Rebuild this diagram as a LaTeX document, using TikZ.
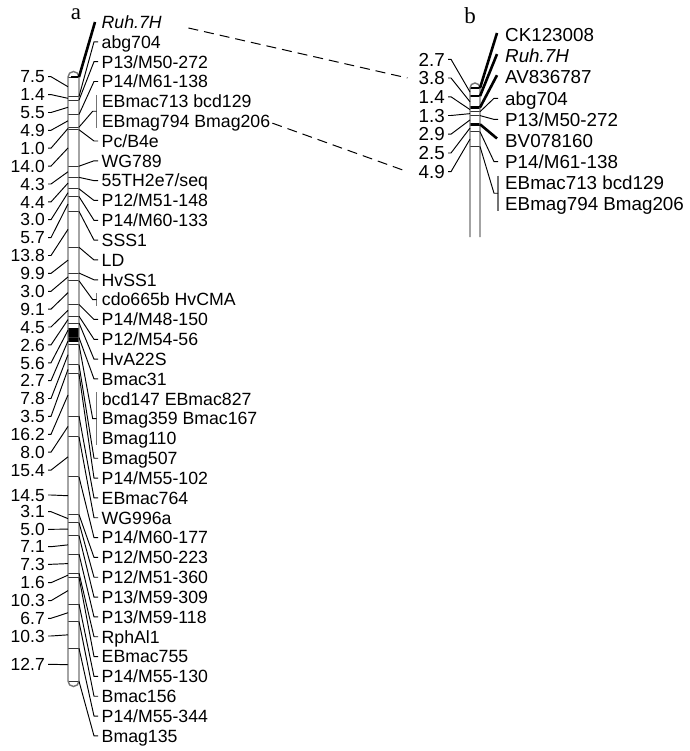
\documentclass[tikz,border=0pt]{standalone}
\usepackage{fontspec}
\setmainfont{Liberation Sans}
\newfontfamily\headfont{Liberation Serif}
\usetikzlibrary{calc}

\begin{document}
\begin{tikzpicture}[
  x=1pt, y=-1pt,
  chrom/.style    ={draw=black!55,line width=1.4pt},
  locus/.style    ={black!80,line width=0.9pt},
  boldlocus/.style={black,line width=2.6pt},
  link/.style     ={line width=0.95pt},
  boldlink/.style ={line width=2.6pt},
  linkdash/.style ={line width=1pt,dash pattern=on 10pt off 6pt},
  grpbar/.style   ={draw=black!55,line width=1.4pt},
  lblA/.style ={anchor=west,inner xsep=3.5pt,inner ysep=0pt,text height=12.7pt,text depth=0pt,font=\fontsize{17.7}{19.8}\selectfont},
  grpA/.style ={lblA,inner xsep=5pt},
  lblB/.style ={anchor=west,inner xsep=7pt,inner ysep=0pt,text height=13.5pt,text depth=0pt,font=\fontsize{18.8}{21}\selectfont},
  distA/.style={anchor=east,inner xsep=3pt,inner ysep=0pt,text height=12.5pt,text depth=0pt,font=\fontsize{17.5}{19}\selectfont},
  distB/.style={anchor=east,inner xsep=3pt,inner ysep=0pt,text height=13.5pt,text depth=0pt,font=\fontsize{18.8}{21}\selectfont},
  headlbl/.style={font=\headfont\fontsize{23}{25}\selectfont}]
\useasboundingbox (0,0) rectangle (689,751);
% --- headers ---
\node[headlbl] (hA) at (76,14) {a};
\node[headlbl] (hB) at (470,16) {b};

% ================= linkage group a =================
\fill[black] (68,328) rectangle (79,342);
\foreach \p [count=\i from 0] in {0,7.5,8.9,14.4,19.3,20.3,34.3,38.6,43.0,46.0,51.7,65.5,75.4,78.4,87.5,92.0,94.6,100.2,102.9,110.7,114.2,130.4,138.4,153.8,168.3,171.4,176.4,183.5,190.8,192.4,202.7,209.4,219.7,232.4}
{
  \coordinate (aL\i) at (68,{77+2.6*\p});
  \coordinate (aR\i) at (79,{77+2.6*\p});
  \draw[locus] (aL\i) -- (aR\i);
}
\draw[boldlocus] ([xshift=3pt]aL0) -- (aR0);
\draw[chrom] (68,681) -- (68,77) arc[start angle=180,end angle=0,radius=5.5pt]
  -- (79,681) arc[start angle=0,end angle=-180,radius=5.5pt] -- cycle;
% interval lengths on the left
\foreach \d/\yl [count=\i from 0] in {7.5/76.7,1.4/94.6,5.5/112.5,4.9/130.3,1.0/148.2,14.0/166.1,4.3/184.0,4.4/201.9,3.0/219.7,5.7/237.6,13.8/255.5,9.9/273.4,3.0/291.3,9.1/309.1,4.5/327.0,2.6/344.9,5.6/362.8,2.7/380.7,7.8/398.5,3.5/416.4,16.2/434.3,8.0/452.2,15.4/470.1,14.5/495.0,3.1/511.7,5.0/529.3,7.1/546.7,7.3/564.3,1.6/582.7,10.3/600.7,6.7/618.3,10.3/636.0,12.7/664.3}
{
  \pgfmathtruncatemacro\j{\i+1}
  \node[distA] (ad\i) at (48,\yl) {\d};
  \draw[link] (ad\i.east) -- ++(3,0) -- ($(aL\i)!0.5!(aL\j)$);
}
% loci on the right
\node[lblA] (la0) at (98,22) {\itshape Ruh.7H};
\draw[boldlink] (aR0) -- ([xshift=-3pt]la0.west);
\foreach \k/\r/\t in {1/1/abg704,2/2/{P13/M50-272},3/3/{P14/M61-138},5/6/{Pc/B4e},6/7/WG789,7/8/{55TH2e7/seq},8/9/{P12/M51-148},9/10/{P14/M60-133},10/11/SSS1,11/12/LD,12/13/HvSS1,14/15/{P14/M48-150},15/16/{P12/M54-56},16/17/HvA22S,17/18/Bmac31,19/22/Bmag507,20/23/{P14/M55-102},21/24/EBmac764,22/25/WG996a,23/26/{P14/M60-177},24/27/{P12/M50-223},25/28/{P12/M51-360},26/29/{P13/M59-309},27/30/{P13/M59-118},28/31/RphAl1,29/32/EBmac755,30/33/{P14/M55-130},31/34/Bmac156,32/35/{P14/M55-344},33/36/Bmag135}
{
  \node[lblA] (la\k) at (98,{22+19.83*\r}) {\t};
  \draw[link] (aR\k) -- ([xshift=-4pt]la\k.west) -- (la\k.west);
}
% grouped loci
\node[grpA] (la4a) at (96.7,{22+19.83*4}) {EBmac713 bcd129};
\node[grpA] (la4b) at (96.7,{22+19.83*5}) {EBmag794 Bmag206};
\draw[grpbar] (la4a.north west) -- (la4b.south west);
\draw[link] (aR4) -- ([xshift=-4pt]$(la4a.west)!0.5!(la4b.west)$) -- ($(la4a.west)!0.5!(la4b.west)$);
\node[grpA] (la13) at (96.7,{22+19.83*14}) {cdo665b HvCMA};
\draw[grpbar] (la13.north west) -- (la13.south west);
\draw[link] (aR13) -- ([xshift=-4pt]la13.west) -- (la13.west);
\node[grpA] (la18a) at (96.7,{22+19.83*19}) {bcd147 EBmac827};
\node[grpA] (la18b) at (96.7,{22+19.83*20}) {Bmag359 Bmac167};
\node[grpA] (la18c) at (96.7,{22+19.83*21}) {Bmag110};
\draw[grpbar] (la18a.north west) -- (la18c.south west);
\draw[link] (aR18) -- ([xshift=-4pt]la18b.west) -- (la18b.west);

% ================= linkage group b =================
\foreach \p [count=\i from 0] in {0,2.7,6.5,7.9,9.2,12.1,14.6,19.5}
{
  \coordinate (bL\i) at (470,{88+3*\p});
  \coordinate (bR\i) at (480,{88+3*\p});
  \draw[locus] (bL\i) -- (bR\i);
}
\foreach \i in {0,1,2,5}
  \draw[boldlocus] (bL\i) -- (bR\i);
\draw[chrom] (470,237) -- (470,88) arc[start angle=180,end angle=0,radius=5pt] -- (480,237);
\foreach \d/\yl [count=\i from 0] in {2.7/59.3,3.8/78.0,1.4/96.8,1.3/115.5,2.9/134.2,2.5/153.0,4.9/171.7}
{
  \pgfmathtruncatemacro\j{\i+1}
  \node[distB] (bd\i) at (448,\yl) {\d};
  \draw[link] (bd\i.east) -- ++(3,0) -- ($(bL\i)!0.5!(bL\j)$);
}
\foreach \k/\t in {0/CK123008,1/{\itshape Ruh.7H},2/AV836787,5/BV078160}
{
  \node[lblB] (lb\k) at (498,{35+21.1*\k}) {\t};
  \draw[boldlink] (bR\k) -- ([xshift=-1pt,yshift=2pt]lb\k.west);
}
\foreach \k/\t in {3/abg704,4/{P13/M50-272},6/{P14/M61-138}}
{
  \node[lblB] (lb\k) at (498,{35+21.1*\k}) {\t};
  \draw[link] (bR\k) -- ([xshift=-4pt]lb\k.west) -- (lb\k.west);
}
\node[lblB] (lb7a) at (498,{35+21.1*7}) {EBmac713 bcd129};
\node[lblB] (lb7b) at (498,{35+21.1*8}) {EBmag794 Bmag206};
\draw[grpbar] (lb7a.north west) -- (lb7b.south west);
\draw[link] (bR7) -- ([xshift=-4pt]$(lb7a.west)!0.5!(lb7b.west)$) -- ($(lb7a.west)!0.5!(lb7b.west)$);

% --- homologous loci between a and b ---
\draw[linkdash] ([xshift=23pt,yshift=-6pt]la0.east) -- ([xshift=-8pt]bd1.west);
\draw[linkdash] ([xshift=-3pt,yshift=-2pt]la4b.east) -- ([xshift=-8pt]bd6.west);
\end{tikzpicture}
\end{document}
